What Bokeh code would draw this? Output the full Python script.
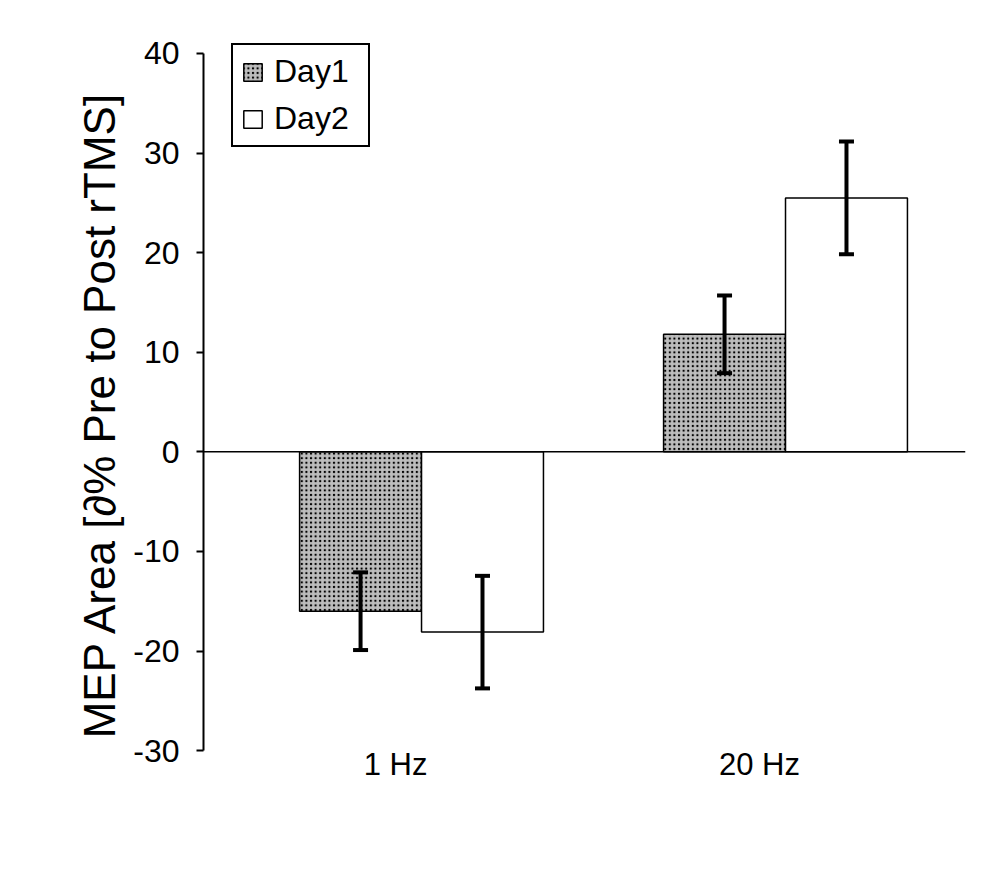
from bokeh.plotting import figure
from bokeh.models import (ColumnDataSource, Range1d, FixedTicker, Span, Whisker, TeeHead,
                          Legend, LegendItem, LabelSet)
from bokeh.core.properties import value
from bokeh.transform import dodge
from bokeh.embed import file_html
from bokeh.resources import INLINE

# ---- data ----
categories = ["1 Hz", "20 Hz"]
group_pos = [1, 2]
day1 = [-16.0, 11.8]
day2 = [-18.1, 25.5]
day1_err = [3.9, 3.9]
day2_err = [5.65, 5.65]
y_ticks = [-30, -20, -10, 0, 10, 20, 30, 40]

FONT = "Liberation Sans"
BAR_W = 0.335

src1 = ColumnDataSource(dict(
    x=group_pos, top=day1,
    upper=[v + e for v, e in zip(day1, day1_err)],
    lower=[v - e for v, e in zip(day1, day1_err)]))
src2 = ColumnDataSource(dict(
    x=group_pos, top=day2,
    upper=[v + e for v, e in zip(day2, day2_err)],
    lower=[v - e for v, e in zip(day2, day2_err)]))
cat_src = ColumnDataSource(dict(x=group_pos, y=[y_ticks[0]] * len(group_pos), text=categories))

p = figure(frame_width=762, frame_height=742,
           min_border_left=203, min_border_top=43, min_border_right=10, min_border_bottom=40,
           x_range=Range1d(0.401, 2.4945), y_range=Range1d(-33.5, 41.0),
           output_backend="svg", toolbar_location=None, background_fill_color="white",
           border_fill_color="white")
p.outline_line_color = None
p.grid.visible = False

r1 = p.vbar(x=dodge("x", -BAR_W / 2), top="top", bottom=0, width=BAR_W, source=src1,
            fill_color="#bdbdbd", hatch_pattern="dot", hatch_color="black",
            hatch_scale=4.6, hatch_weight=2.5, hatch_alpha=1.0,
            line_color="black", line_width=1.5)
r2 = p.vbar(x=dodge("x", BAR_W / 2), top="top", bottom=0, width=BAR_W, source=src2,
            fill_color="white", line_color="black", line_width=1.5)

p.add_layout(Span(location=0, dimension="width", line_color="black", line_width=1.5))

for src, off in ((src1, -BAR_W / 2), (src2, BAR_W / 2)):
    w = Whisker(base=dodge("x", off), upper="upper", lower="lower", source=src,
                line_color="black", line_width=4, level="overlay",
                upper_head=TeeHead(size=15, line_width=4, line_color="black"),
                lower_head=TeeHead(size=15, line_width=4, line_color="black"))
    p.add_layout(w)

# y axis
ya = p.yaxis[0]
ya.ticker = FixedTicker(ticks=y_ticks)
ya.major_label_overrides = {t: str(t) for t in y_ticks}
ya.bounds = (-30, 40)
ya.minor_tick_line_color = None
ya.major_tick_in = 0
ya.major_tick_out = 7
ya.axis_line_width = 2
ya.major_tick_line_width = 2
ya.major_label_text_font = FONT
ya.major_label_text_font_size = "32px"
ya.major_label_text_color = "black"
ya.major_label_standoff = 17
ya.axis_label = "MEP Area [\u2202% Pre to Post rTMS]"
ya.axis_label_text_font = FONT
ya.axis_label_text_font_size = "44px"
ya.axis_label_text_font_style = "normal"
ya.axis_label_text_color = "black"
ya.axis_label_standoff = 6

# x axis: category labels drawn as text just below the y axis end
p.xaxis.visible = False
p.add_layout(LabelSet(x="x", y="y", text="text", source=cat_src,
                      x_offset=-26, y_offset=-14,
                      text_font=value(FONT), text_font_size=value("31px"), text_color="black",
                      text_align="center", text_baseline="middle"))

legend = Legend(items=[LegendItem(label="Day1", renderers=[r1]),
                       LegendItem(label="Day2", renderers=[r2])],
                location=(28, 638), orientation="vertical",
                label_text_font=FONT, label_text_font_size="32px", label_text_color="black",
                glyph_width=23, glyph_height=22, label_standoff=10, spacing=10, padding=8,
                label_width=86,
                border_line_color="black", border_line_width=2.5, border_line_alpha=1.0,
                background_fill_color="white", background_fill_alpha=1.0)
p.add_layout(legend)

open("out.html", "w").write(file_html(p, INLINE))
